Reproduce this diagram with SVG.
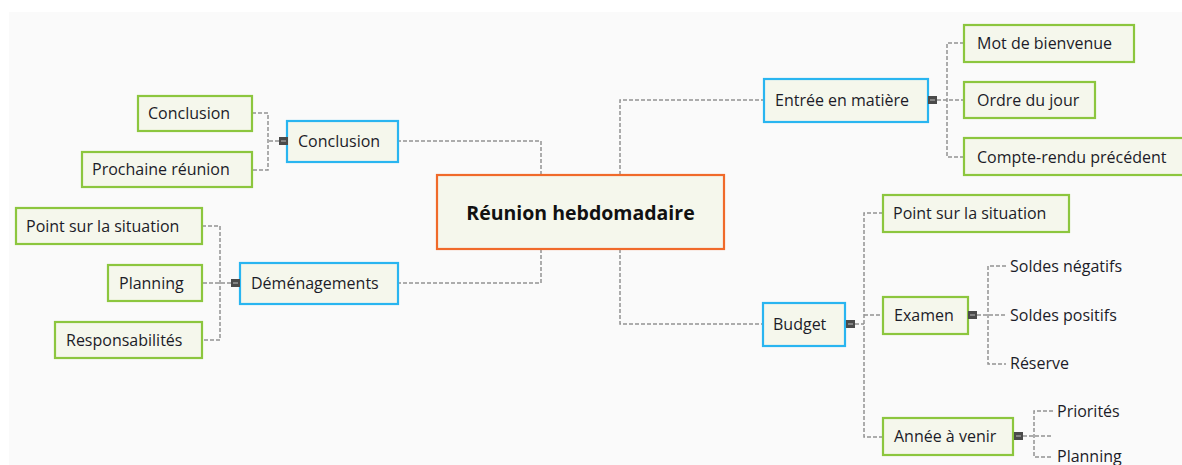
<svg xmlns="http://www.w3.org/2000/svg" width="1182" height="465" viewBox="0 0 1182 465">
<style>
  .bg { fill: #fafafa; }
  .box { fill: #f5f7ec; stroke-width: 2.2; }
  .main { stroke: #29b5f0; }
  .sub { stroke: #8cc63e; }
  .root { stroke: #f06a2a; }
  .t { font-family: "Open Sans", "Noto Sans", sans-serif; font-size: 16px; fill: #1c1c28; dominant-baseline: central; }
  .tc { font-family: "Open Sans", "Noto Sans", sans-serif; font-size: 19.5px; font-weight: bold; fill: #111; text-anchor: middle; dominant-baseline: central; }
  .conn path { fill: none; stroke: #929292; stroke-width: 1.5; stroke-dasharray: 4 2; }
  .handle { fill: #4a4a4a; }
  .hl { stroke: #bbbbbb; stroke-width: 1; }
</style>
<rect width="1182" height="465" fill="#ffffff"/>
<rect class="bg" x="9" y="12" width="1173" height="453"/>

<g id="connectors" class="conn">
  <path d="M541,175 V141 H398"/>
  <path d="M541,249 V283 H398"/>
  <path d="M620,175 V100 H763"/>
  <path d="M620,249 V324 H763"/>
  <path d="M279,141 H268"/>
  <path d="M252,113 H268 V170 H252"/>
  <path d="M231,283 H202"/>
  <path d="M202,226 H220 V340 H202"/>
  <path d="M937,100 H964"/>
  <path d="M964,43 H947 V157 H964"/>
  <path d="M855,324 H864"/>
  <path d="M883,213 H864 V437 H883"/>
  <path d="M864,315 H883"/>
  <path d="M977,315 H1006"/>
  <path d="M1006,266 H988 V364 H1006"/>
  <path d="M1023,436 H1053"/>
  <path d="M1053,411 H1034 V457 H1053"/>
</g>

<g id="root">
  <rect class="box root" x="437" y="175" width="287" height="74"/>
  <text class="tc" x="580.5" y="212">Réunion hebdomadaire</text>
</g>

<g id="conclusion">
  <rect class="box main" x="287" y="121" width="111" height="41"/>
  <text class="t" x="298" y="141">Conclusion</text>
  <rect class="handle" x="279" y="137" width="9" height="8"/>
  <line class="hl" x1="281" y1="141" x2="286" y2="141"/>
</g>
<g id="conclusion-child">
  <rect class="box sub" x="138" y="96" width="114" height="35"/>
  <text class="t" x="148" y="113">Conclusion</text>
</g>
<g id="prochaine-reunion">
  <rect class="box sub" x="82" y="152" width="170" height="35"/>
  <text class="t" x="92" y="169">Prochaine réunion</text>
</g>

<g id="demenagements">
  <rect class="box main" x="240" y="263" width="158" height="41"/>
  <text class="t" x="251" y="283">Déménagements</text>
  <rect class="handle" x="231" y="279" width="9" height="8"/>
  <line class="hl" x1="233" y1="283" x2="238" y2="283"/>
</g>
<g id="point-situation-left">
  <rect class="box sub" x="16" y="208" width="186" height="36"/>
  <text class="t" x="26" y="226">Point sur la situation</text>
</g>
<g id="planning-left">
  <rect class="box sub" x="108" y="265" width="94" height="36"/>
  <text class="t" x="119" y="283">Planning</text>
</g>
<g id="responsabilites">
  <rect class="box sub" x="55" y="322" width="147" height="36"/>
  <text class="t" x="66" y="340">Responsabilités</text>
</g>

<g id="entree">
  <rect class="box main" x="764" y="79" width="164" height="43"/>
  <text class="t" x="775" y="100">Entrée en matière</text>
  <rect class="handle" x="928" y="96" width="9" height="8"/>
  <line class="hl" x1="930" y1="100" x2="935" y2="100"/>
</g>
<g id="mot-bienvenue">
  <rect class="box sub" x="964" y="25" width="170" height="37"/>
  <text class="t" x="977" y="43">Mot de bienvenue</text>
</g>
<g id="ordre-jour">
  <rect class="box sub" x="964" y="82" width="131" height="36"/>
  <text class="t" x="977" y="100">Ordre du jour</text>
</g>
<g id="compte-rendu">
  <rect class="box sub" x="964" y="138" width="225" height="37"/>
  <text class="t" x="977" y="157">Compte-rendu précédent</text>
</g>

<g id="budget">
  <rect class="box main" x="763" y="303" width="82" height="43"/>
  <text class="t" x="773" y="324">Budget</text>
  <rect class="handle" x="846" y="320" width="9" height="8"/>
  <line class="hl" x1="848" y1="324" x2="853" y2="324"/>
</g>
<g id="point-situation-right">
  <rect class="box sub" x="883" y="195" width="186" height="37"/>
  <text class="t" x="893" y="213">Point sur la situation</text>
</g>
<g id="examen">
  <rect class="box sub" x="883" y="297" width="85" height="37"/>
  <text class="t" x="894" y="315">Examen</text>
  <rect class="handle" x="968" y="311" width="9" height="8"/>
  <line class="hl" x1="970" y1="315" x2="975" y2="315"/>
</g>
<g id="soldes-negatifs">
  <text class="t" x="1010" y="266">Soldes négatifs</text>
</g>
<g id="soldes-positifs">
  <text class="t" x="1010" y="315">Soldes positifs</text>
</g>
<g id="reserve">
  <text class="t" x="1010" y="363">Réserve</text>
</g>
<g id="annee-venir">
  <rect class="box sub" x="883" y="418" width="130" height="37"/>
  <text class="t" x="894" y="436">Année à venir</text>
  <rect class="handle" x="1014" y="432" width="9" height="8"/>
  <line class="hl" x1="1016" y1="436" x2="1021" y2="436"/>
</g>
<g id="priorites">
  <text class="t" x="1057" y="411">Priorités</text>
</g>
<g id="planning-right">
  <text class="t" x="1057" y="456">Planning</text>
</g>
</svg>
